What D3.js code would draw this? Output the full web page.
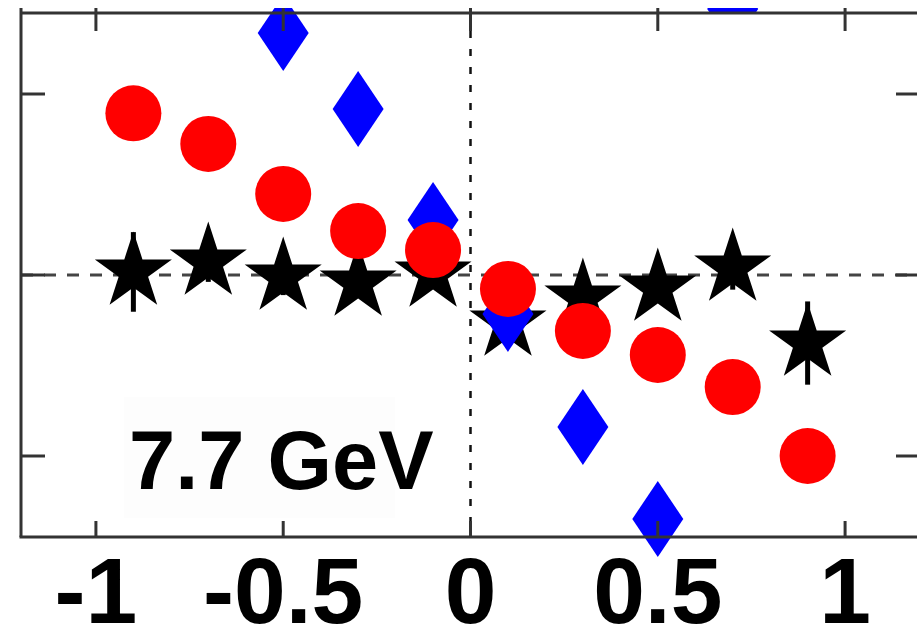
<!DOCTYPE html>
<html>
<head>
<meta charset="utf-8">
<script src="https://cdn.jsdelivr.net/npm/d3@7"></script>
<style>
  html, body { margin: 0; padding: 0; background: #fff; }
  svg { display: block; }
</style>
</head>
<body>
<svg id="chart" width="917" height="626"></svg>
<script>
// Rapidity bins (bin centres)
const binCenters = [-0.9, -0.7, -0.5, -0.3, -0.1, 0.1, 0.3, 0.5, 0.7, 0.9];

// Black stars with vertical errors
const starValues = [0.017, 0.072, -0.011, -0.044, 0.006, -0.265, -0.127, -0.072, 0.039, -0.376];
const starErrors = [0.22, 0.11, 0.10, 0.08, 0.08, 0.10, 0.06, 0.06, 0.12, 0.23];

// Red circles
const circleValues = [0.893, 0.724, 0.448, 0.243, 0.138, -0.077, -0.309, -0.442, -0.619, -1.0];

// Blue diamonds (only the bins that fall near the frame)
const diamondX = [-0.5, -0.3, -0.1, 0.1, 0.3, 0.5, 0.7];
const diamondValues = [1.337, 0.917, 0.304, -0.215, -0.840, -1.348, 1.47];

// Axis ticks
const xTicks = [-1, -0.5, 0, 0.5, 1];
const xTickLabels = ["-1", "-0.5", "0", "0.5", "1"];
const yTicks = [-1, 0, 1];

const energyLabel = "7.7 GeV";

const svg = d3.select("#chart");
const frame = { left: 21, right: 920, top: 13, bottom: 537 };
const padTop = 8;

const x = d3.scaleLinear().domain([-1.2, 1.2]).range([frame.left, frame.right]);
const y = d3.scaleLinear().domain([-1.4475, 1.4475]).range([frame.bottom, frame.top]);

const axisColor = "#333";

// Marker clipping: the pad starts at padTop; off-scale points only show in the strip above the frame
const defs = svg.append("defs");
defs.append("clipPath").attr("id", "padClip")
  .append("rect").attr("x", 0).attr("y", padTop).attr("width", 917).attr("height", 626 - padTop);
defs.append("clipPath").attr("id", "overClip")
  .append("rect").attr("x", 0).attr("y", padTop).attr("width", 917).attr("height", frame.top - padTop);

// Label background box
svg.append("rect")
  .attr("x", 124).attr("y", 397).attr("width", 271).attr("height", 121)
  .attr("fill", "#fdfdfd");

// Zero reference lines
svg.append("line")
  .attr("x1", frame.left).attr("x2", frame.right)
  .attr("y1", y(0)).attr("y2", y(0))
  .attr("stroke", "#444").attr("stroke-width", 3)
  .attr("stroke-dasharray", "12,11");
svg.append("line")
  .attr("x1", x(0)).attr("x2", x(0))
  .attr("y1", frame.top).attr("y2", frame.bottom)
  .attr("stroke", "#111").attr("stroke-width", 2.5)
  .attr("stroke-dasharray", "7,11");

// Label
svg.append("text")
  .attr("x", 129).attr("y", 489)
  .attr("font-family", "Liberation Sans, Arial, sans-serif")
  .attr("font-weight", "bold")
  .attr("font-size", 83)
  .attr("fill", "#000")
  .text(energyLabel);

const markers = svg.append("g").attr("clip-path", "url(#padClip)");

// Stars: error bars then symbols
const starR = 40.5;
const starSym = d3.symbol().type(d3.symbolStar).size(starR * starR / 0.89081309152928522810);
markers.selectAll("line.err").data(binCenters).join("line")
  .attr("class", "err")
  .attr("x1", d => x(d)).attr("x2", d => x(d))
  .attr("y1", (d, i) => y(starValues[i] + starErrors[i]))
  .attr("y2", (d, i) => y(starValues[i] - starErrors[i]))
  .attr("stroke", "#000").attr("stroke-width", 5);
markers.selectAll("path.star").data(binCenters).join("path")
  .attr("class", "star")
  .attr("d", starSym)
  .attr("transform", (d, i) => `translate(${x(d)},${y(starValues[i])})`)
  .attr("fill", "#000");

// Diamonds
const dw = 25.5, dh = 38;
function diamondPath() {
  const p = d3.path();
  p.moveTo(0, -dh); p.lineTo(dw, 0); p.lineTo(0, dh); p.lineTo(-dw, 0); p.closePath();
  return p.toString();
}
const yTop = y.domain()[1];
diamondX.forEach((d, i) => {
  const v = diamondValues[i];
  const target = v > yTop ? svg.append("g").attr("clip-path", "url(#overClip)") : markers;
  target.append("path")
    .attr("d", diamondPath())
    .attr("transform", `translate(${x(d)},${y(v)})`)
    .attr("fill", "#0000ff");
});

// Circles
markers.selectAll("circle.pt").data(binCenters).join("circle")
  .attr("class", "pt")
  .attr("cx", d => x(d))
  .attr("cy", (d, i) => y(circleValues[i]))
  .attr("r", 28)
  .attr("fill", "#ff0000");

// Frame
const fg = svg.append("g").attr("stroke", axisColor).attr("stroke-width", 3).attr("fill", "none");
fg.append("line").attr("x1", frame.left).attr("x2", frame.left).attr("y1", padTop).attr("y2", frame.bottom);
fg.append("line").attr("x1", frame.right).attr("x2", frame.right).attr("y1", padTop).attr("y2", frame.bottom);
fg.append("line").attr("x1", frame.left).attr("x2", frame.right).attr("y1", frame.top).attr("y2", frame.top);
fg.append("line").attr("x1", frame.left - 1.5).attr("x2", frame.right).attr("y1", frame.bottom).attr("y2", frame.bottom);

// Ticks on all four sides, pointing inward
xTicks.forEach(t => {
  fg.append("line").attr("x1", x(t)).attr("x2", x(t)).attr("y1", padTop).attr("y2", frame.top + 18);
  fg.append("line").attr("x1", x(t)).attr("x2", x(t)).attr("y1", frame.bottom).attr("y2", frame.bottom - 16);
});
yTicks.forEach(t => {
  fg.append("line").attr("x1", frame.left).attr("x2", frame.left + 24).attr("y1", y(t)).attr("y2", y(t));
  fg.append("line").attr("x1", frame.right).attr("x2", frame.right - 24).attr("y1", y(t)).attr("y2", y(t));
});

// Tick labels
svg.append("g").selectAll("text").data(xTicks).join("text")
  .attr("x", d => x(d))
  .attr("y", 623)
  .attr("text-anchor", "middle")
  .attr("font-family", "Liberation Sans, Arial, sans-serif")
  .attr("font-weight", "bold")
  .attr("font-size", 93)
  .attr("fill", "#000")
  .text((d, i) => xTickLabels[i]);
</script>
</body>
</html>
